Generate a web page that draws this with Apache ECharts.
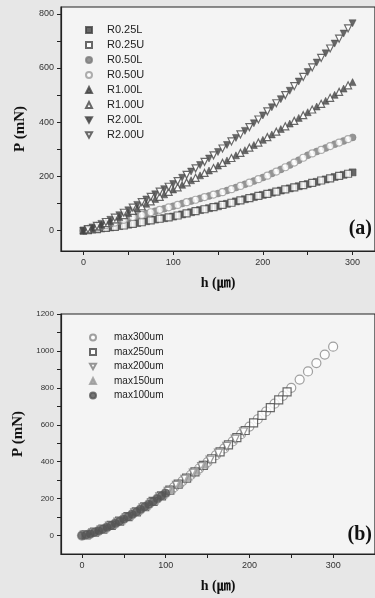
<!DOCTYPE html>
<html>
<head>
<meta charset="utf-8">
<script src="https://cdn.jsdelivr.net/npm/echarts@6/dist/echarts.min.js"></script>
<style>
  html, body { margin: 0; padding: 0; background: #e7e7e7; }
  #main { width: 375px; height: 598px; }
</style>
</head>
<body>
<div id="main"></div>
<script>
// ---- panel (a): P-h curves for each radius, L / U ----
const hL = [0,10,20,30,40,50,60,70,80,90,100,110,120,130,140,150,160,170,180,190,200,210,220,230,240,250,260,270,280,290,300]
const hU = [5,15,25,35,45,55,65,75,85,95,105,115,125,135,145,155,165,175,185,195,205,215,225,235,245,255,265,275,285,295]

const r025L = [0,4,8,12,17,22,28,35,41,46,52,60,68,76,83,90,99,108,116,124,132,140,148,156,164,172,180,189,198,206,215]
const r025U = [2,6,10,14,19,25,31,38,44,49,56,64,72,79,87,95,103,112,120,128,136,144,152,160,168,176,185,193,202,210]
const r050L = [0,7,15,25,35,45,54,63,72,81,90,100,109,119,128,137,148,159,171,183,196,211,226,242,260,278,292,305,319,331,344]
const r050U = [3,11,20,30,40,50,58,68,77,86,95,105,114,124,133,142,153,165,177,190,203,218,234,251,269,285,298,312,325,338]
const r100L = [0,10,22,35,50,65,82,99,117,134,152,169,186,204,222,240,259,278,297,316,335,355,375,395,416,437,458,479,501,524,548]
const r100U = [5,16,28,42,57,73,90,108,125,143,160,178,195,213,231,250,268,287,306,325,345,365,385,405,426,447,468,490,512,536]
const r200L = [0,12,25,40,57,75,95,115,134,153,172,195,218,242,266,290,316,342,368,396,425,455,485,516,550,585,620,654,690,727,765]
const r200U = [6,18,32,48,66,85,105,125,144,162,183,206,230,254,278,303,329,355,382,410,440,470,500,533,567,602,637,672,708,746]

const xLabelsA = [0,100,200,300]
const xTicksA = [0,50,100,150,200,250,300]
const yLabelsA = [0,200,400,600,800]
const yTicksA = [0,100,200,300,400,500,600,700,800]

// ---- panel (b): different max depth ----
const hB300 = [0,10,20,30,40,50,60,70,80,90,100,110,120,130,140,150,160,170,180,190,200,210,220,230,240,250,260,270,280,290,300]
const p300 = [0,10,26,45,66,90,115,142,170,200,230,262,295,328,363,398,435,472,510,549,590,630,672,714,757,800,845,889,934,980,1023]
const hB250 = [5,15,25,35,45,55,65,75,85,95,105,115,125,135,145,155,165,175,185,195,205,215,225,235,245]
const p250 = [4,18,35,55,78,102,128,156,185,215,246,278,311,345,380,416,453,491,530,569,610,651,693,735,778]
const hB200 = [3,13,23,33,43,53,63,73,83,93,103,113,123,133,143,153,163,173,183,193]
const p200 = [3,15,31,51,73,97,123,150,179,209,239,272,305,338,373,409,446,483,522,561]
const hB150 = [7,17,27,37,47,57,67,77,87,97,107,117,127,137,147]
const p150 = [6,21,39,60,83,107,134,162,191,221,252,285,318,352,387]
const hB100 = [0,5,10,15,20,25,30,35,40,45,50,55,60,65,70,75,80,85,90,95,100]
const p100 = [0,4,10,18,26,35,45,55,66,78,90,102,115,128,142,156,170,185,200,215,230]

const xLabelsB = [0,100,200,300]
const xTicksB = [0,50,100,150,200,250,300]
const yLabelsB = [0,200,400,600,800,1000,1200]
const yTicksB = [0,100,200,300,400,500,600,700,800,900,1000,1100,1200]

const pair = (xs, ys) => xs.map((x, i) => [x, ys[i]])

const dark = '#444'
const mid = '#7c7c7c'
const light = '#9a9a9a'
const downTri = 'path://M0,0L10,0L5,9Z'

function mk(name, grid, data, symbol, color, open, size) {
    return {
        name: name,
        type: 'scatter',
        xAxisIndex: grid,
        yAxisIndex: grid,
        data: data,
        symbol: symbol,
        symbolSize: size,
        silent: true,
        itemStyle: open
            ? { color: '#fff', borderColor: color, borderWidth: 1.2 }
            : { color: color, borderColor: color, borderWidth: 0.6 }
    }
}

function xAxis(grid, min, max, labels, ticks) {
    return {
        type: 'value', gridIndex: grid, min: min, max: max,
        name: 'h (㎛)', nameLocation: 'middle', nameGap: 25,
        nameTextStyle: { fontFamily: 'Liberation Serif, Noto Sans CJK SC', fontWeight: 'bold', fontSize: 14, color: '#111' },
        splitLine: { show: false },
        axisLine: { show: true, onZero: false, lineStyle: { color: '#222', width: 1.2 } },
        axisTick: { show: true, inside: false, length: 4, customValues: ticks, lineStyle: { color: '#222' } },
        axisLabel: { customValues: labels, fontFamily: 'Liberation Sans', fontSize: 9, color: '#333', margin: 7 }
    }
}

function yAxis(grid, min, max, labels, ticks, fs) {
    return {
        type: 'value', gridIndex: grid, min: min, max: max,
        name: 'P (mN)', nameLocation: 'middle', nameGap: 33, nameRotate: 90,
        nameTextStyle: { fontFamily: 'Liberation Serif', fontWeight: 'bold', fontSize: 15, color: '#111' },
        splitLine: { show: false },
        axisLine: { show: true, onZero: false, lineStyle: { color: '#222', width: 1.2 } },
        axisTick: { show: true, inside: false, length: 4, customValues: ticks, lineStyle: { color: '#222' } },
        axisLabel: {
            customValues: labels, fontFamily: 'Liberation Sans', fontSize: fs, color: '#333', margin: 7,
            formatter: (v) => String(v)
        }
    }
}

var myChart = echarts.init(document.getElementById('main'))
myChart.setOption({
    animation: false,
    backgroundColor: '#e7e7e7',
    grid: [
        { left: 61, top: 7, height: 244, right: -6, show: true, backgroundColor: '#f4f4f4', borderColor: '#222', borderWidth: 1.2 },
        { left: 61, top: 314, height: 240, right: -6, show: true, backgroundColor: '#f4f4f4', borderColor: '#222', borderWidth: 1.2 }
    ],
    xAxis: [
        xAxis(0, -25, 325, xLabelsA, xTicksA),
        xAxis(1, -25, 350, xLabelsB, xTicksB)
    ],
    yAxis: [
        yAxis(0, -75, 825, yLabelsA, yTicksA, 9),
        yAxis(1, -100, 1200, yLabelsB, yTicksB, 8)
    ],
    legend: [
        {
            data: ['R0.25L', 'R0.25U', 'R0.50L', 'R0.50U', 'R1.00L', 'R1.00U', 'R2.00L', 'R2.00U'],
            orient: 'vertical', left: 80, top: 19, itemWidth: 6, itemHeight: 6, itemGap: 3,
            selectedMode: false,
            textStyle: { fontFamily: 'Liberation Sans', fontSize: 11, lineHeight: 12, color: '#222', padding: [0, 0, 0, 10] }
        },
        {
            data: ['max300um', 'max250um', 'max200um', 'max150um', 'max100um'],
            orient: 'vertical', left: 84, top: 327, itemWidth: 6, itemHeight: 6, itemGap: 3.5,
            selectedMode: false,
            textStyle: { fontFamily: 'Liberation Sans', fontSize: 10, lineHeight: 11, color: '#222', padding: [0, 0, 0, 13] }
        }
    ],
    graphic: [
        { type: 'text', right: 3, top: 219, style: { text: '(a)', font: 'bold 20px "Liberation Serif"', fill: '#111' } },
        { type: 'text', right: 3, top: 525, style: { text: '(b)', font: 'bold 20px "Liberation Serif"', fill: '#111' } }
    ],
    series: [
        mk('R0.25L', 0, pair(hL, r025L), 'rect', dark, false, 7),
        mk('R0.25U', 0, pair(hU, r025U), 'rect', dark, true, 7),
        mk('R0.50L', 0, pair(hL, r050L), 'circle', mid, false, 7),
        mk('R0.50U', 0, pair(hU, r050U), 'circle', light, true, 7),
        mk('R1.00L', 0, pair(hL, r100L), 'triangle', dark, false, 7),
        mk('R1.00U', 0, pair(hU, r100U), 'triangle', dark, true, 7),
        mk('R2.00L', 0, pair(hL, r200L), downTri, dark, false, 7),
        mk('R2.00U', 0, pair(hU, r200U), downTri, dark, true, 7),

        mk('max300um', 1, pair(hB300, p300), 'circle', '#888', true, 9),
        mk('max250um', 1, pair(hB250, p250), 'rect', dark, true, 8),
        mk('max200um', 1, pair(hB200, p200), downTri, mid, true, 8),
        mk('max150um', 1, pair(hB150, p150), 'triangle', light, false, 8),
        mk('max100um', 1, pair(hB100, p100), 'circle', '#555', false, 8)
    ]
})
</script>
</body>
</html>
